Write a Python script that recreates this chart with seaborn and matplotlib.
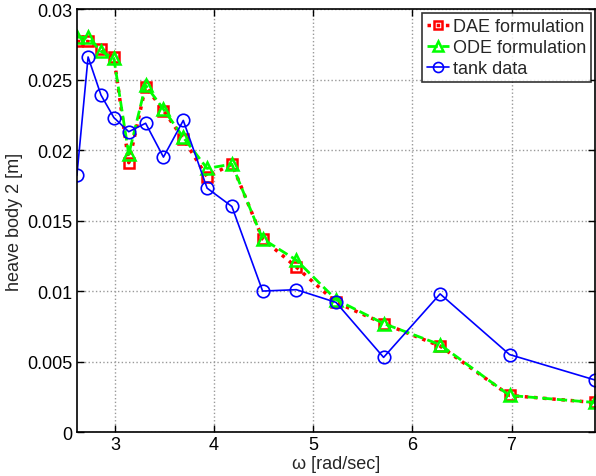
import matplotlib
matplotlib.use("Agg")
import matplotlib.pyplot as plt
import pandas as pd
import seaborn as sns

# frequencies [rad/sec]
omega = [2.617, 2.73, 2.86, 2.99, 3.14, 3.31, 3.49, 3.69, 3.93, 4.18,
         4.49, 4.83, 5.23, 5.71, 6.28, 6.98, 7.84]

dae = [0.0277, 0.0277, 0.0272, 0.0266, 0.0191, 0.0245, 0.0228, 0.0208, 0.0181, 0.0190,
       0.0137, 0.0117, 0.0092, 0.0077, 0.0061, 0.0026, 0.0021]
ode = [0.0280, 0.0280, 0.0270, 0.0265, 0.0197, 0.0246, 0.0229, 0.0209, 0.0187, 0.0190,
       0.0137, 0.0122, 0.0094, 0.0077, 0.0062, 0.0026, 0.0021]
tank = [0.0182, 0.0266, 0.0239, 0.0223, 0.0213, 0.0219, 0.0195, 0.0221, 0.0173, 0.0160,
        0.0100, 0.0101, 0.0092, 0.0053, 0.0098, 0.0055, 0.0037]

xticks = [3, 4, 5, 6, 7]
yticks = [0, 0.005, 0.01, 0.015, 0.02, 0.025, 0.03]
ytick_labels = ["0", "0.005", "0.01", "0.015", "0.02", "0.025", "0.03"]

sns.set_style("white")
plt.rcParams['font.family'] = ['Liberation Sans', 'DejaVu Sans']

fig = plt.figure(figsize=(5.96, 4.77), dpi=100)
ax = fig.add_axes([0.129, 0.092, 0.869, 0.887])

df = pd.DataFrame({"omega": omega, "dae": dae, "ode": ode, "tank": tank})

sns.lineplot(data=df, x="omega", y="dae", ax=ax, sort=False, color="red",
             linestyle=":", linewidth=2.5, marker="s", markersize=7,
             markerfacecolor="none", markeredgecolor="red", markeredgewidth=1.8,
             label="DAE formulation")
sns.lineplot(data=df, x="omega", y="ode", ax=ax, sort=False, color="#00ff00",
             linestyle="--", linewidth=2, marker="^", markersize=9,
             markerfacecolor="none", markeredgecolor="#00ff00", markeredgewidth=1.8,
             label="ODE formulation")
sns.lineplot(data=df, x="omega", y="tank", ax=ax, sort=False, color="blue",
             linestyle="-", linewidth=1.2, marker="o", markersize=9,
             markerfacecolor="none", markeredgecolor="blue", markeredgewidth=1.2,
             label="tank data")

ax.set_xlim(omega[0], omega[-1])
ax.set_ylim(0, 0.03)
ax.set_xticks(xticks)
ax.set_xticklabels([str(t) for t in xticks])
ax.set_yticks(yticks)
ax.set_yticklabels(ytick_labels)
ax.grid(True, linestyle=":", color="#999999", linewidth=1)
ax.tick_params(direction="in", length=5, width=1, labelsize=13, colors="black",
               top=True, right=True, left=True, bottom=True, pad=3)
for sp in ax.spines.values():
    sp.set_color("black")
    sp.set_linewidth(1.2)

ax.set_xlabel("ω [rad/sec]", fontsize=13, labelpad=1)
ax.set_ylabel("heave body 2 [m]", fontsize=13, labelpad=3)

leg = ax.legend(loc="upper right", fontsize=13, frameon=True, fancybox=False,
                handlelength=1.2, handletextpad=0.2, borderpad=0.3,
                labelspacing=0.22, borderaxespad=0.2, markerscale=0.8)
leg.get_frame().set_edgecolor("black")
leg.get_frame().set_linewidth(1.2)

plt.savefig("out.png", dpi=100)
plt.close()
